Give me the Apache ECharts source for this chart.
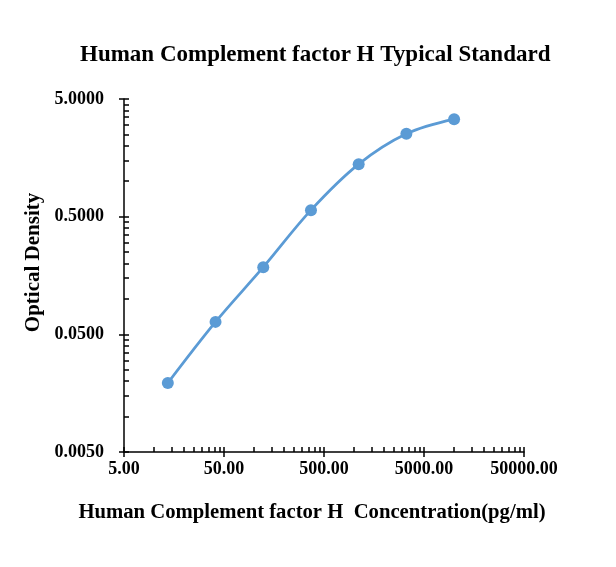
<!DOCTYPE html>
<html>
<head>
<meta charset="utf-8">
<script src="https://cdn.jsdelivr.net/npm/echarts@6/dist/echarts.min.js"></script>
<style>
  html, body { margin: 0; padding: 0; background: #fff; }
  #main { width: 616px; height: 567px; }
</style>
</head>
<body>
<div id="main"></div>
<script>
// standard curve points (pg/ml vs OD)
var concentrations = [13.72, 41.15, 123.46, 370.37, 1111.11, 3333.33, 10000];
var odValues = [0.0193, 0.0638, 0.186, 0.568, 1.397, 2.53, 3.37];

var xMajorTicks = [5, 50, 500, 5000, 50000];
var yMajorTicks = [0.005, 0.05, 0.5, 5];

// minor ticks at k * major, k = 2..9
function minorTicks(majors) {
    var out = [];
    for (var i = 0; i < majors.length - 1; i++) {
        for (var k = 2; k <= 9; k++) {
            out.push(+(majors[i] * k).toPrecision(6));
        }
    }
    return out;
}
var xMinorTicks = minorTicks(xMajorTicks);
var yMinorTicks = minorTicks(yMajorTicks);

var FONT = '"Liberation Serif", "Times New Roman", serif';
var points = concentrations.map(function (c, i) { return [c, odValues[i]]; });

var myChart = echarts.init(document.getElementById('main'));

var baseX = {
    type: 'log', logBase: 10, min: 5, max: 50000,
    splitLine: { show: false }, minorTick: { show: false }
};
var baseY = {
    type: 'log', logBase: 10, min: 0.005, max: 5,
    splitLine: { show: false }, minorTick: { show: false }
};

var option = {
    backgroundColor: '#fff',
    animation: false,
    title: {
        text: 'Human Complement factor H Typical Standard',
        left: 75,
        top: 39,
        textStyle: { fontFamily: FONT, fontWeight: 'bold', fontSize: 23, color: '#000' }
    },
    grid: { left: 124, top: 99, width: 400, height: 353 },
    xAxis: [
        Object.assign({}, baseX, {
            position: 'bottom',
            name: 'Human Complement factor H  Concentration(pg/ml)',
            nameLocation: 'middle',
            nameGap: 50,
            nameTextStyle: { fontFamily: FONT, fontWeight: 'bold', fontSize: 20.7, color: '#000', padding: [0, 24, 0, 0] },
            axisLine: { lineStyle: { color: '#000', width: 1.5 } },
            axisTick: { show: true, inside: false, length: 5, customValues: xMajorTicks, lineStyle: { color: '#000', width: 1.5 } },
            axisLabel: {
                customValues: xMajorTicks, margin: 8,
                fontFamily: FONT, fontWeight: 'bold', fontSize: 18, color: '#000',
                formatter: function (v) { return v.toFixed(2); }
            }
        }),
        Object.assign({}, baseX, {
            position: 'bottom',
            axisLine: { show: false },
            axisTick: { show: true, inside: true, length: 5, customValues: xMajorTicks.concat(xMinorTicks), lineStyle: { color: '#000', width: 1.5 } },
            axisLabel: { show: false }
        })
    ],
    yAxis: [
        Object.assign({}, baseY, {
            position: 'left',
            name: 'Optical Density',
            nameLocation: 'middle',
            nameGap: 78,
            nameTextStyle: { fontFamily: FONT, fontWeight: 'bold', fontSize: 21, color: '#000', padding: [0, 0, 0, 26] },
            axisLine: { show: true, lineStyle: { color: '#000', width: 1.5 } },
            axisTick: { show: true, inside: false, length: 5, customValues: yMajorTicks, lineStyle: { color: '#000', width: 1.5 } },
            axisLabel: {
                customValues: yMajorTicks, margin: 20,
                fontFamily: FONT, fontWeight: 'bold', fontSize: 18, color: '#000',
                formatter: function (v) { return v.toFixed(4); }
            }
        }),
        Object.assign({}, baseY, {
            position: 'left',
            axisLine: { show: false },
            axisTick: { show: true, inside: true, length: 5, customValues: yMajorTicks.concat(yMinorTicks), lineStyle: { color: '#000', width: 1.5 } },
            axisLabel: { show: false }
        })
    ],
    series: [{
        type: 'line',
        data: points,
        smooth: 0.35,
        symbol: 'circle',
        symbolSize: 12,
        lineStyle: { color: '#5B9BD5', width: 2.75 },
        itemStyle: { color: '#5B9BD5' }
    }]
};

myChart.setOption(option);
</script>
</body>
</html>
